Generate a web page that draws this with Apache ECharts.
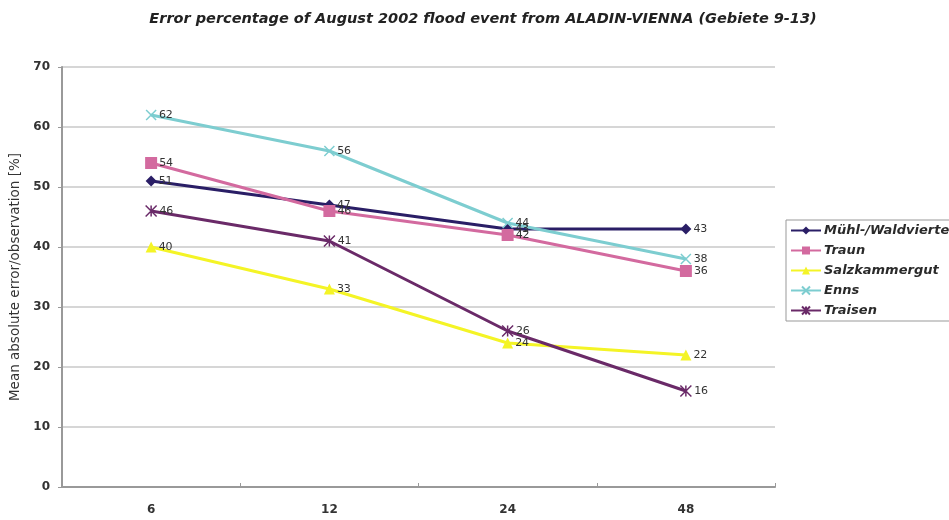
<!DOCTYPE html>
<html>
<head>
<meta charset="utf-8">
<script src="https://cdn.jsdelivr.net/npm/echarts@6/dist/echarts.min.js"></script>
<style>
  html, body { margin: 0; padding: 0; background: #fff; }
  #chart { width: 949px; height: 520px; }
</style>
</head>
<body>
<div id="chart"></div>
<script>
var hours = ['6', '12', '24', '48']
var muehl = [51, 47, 43, 43]
var traun = [54, 46, 42, 36]
var salzkammergut = [40, 33, 24, 22]
var enns = [62, 56, 44, 38]
var traisen = [46, 41, 26, 16]

var crossPath = 'path://M0,0L10,10M10,0L0,10'
var starPath = 'path://M0,0L10,10M10,0L0,10M5,0L5,10'
var font = 'DejaVu Sans'

var myChart = echarts.init(document.getElementById('chart'))

function line (name, data, color, symbol, size) {
  return {
    name: name,
    type: 'line',
    data: data,
    symbol: symbol,
    symbolSize: size,
    itemStyle: { color: color, borderColor: color, borderWidth: symbol.indexOf('path') === 0 ? 1.5 : 0 },
    lineStyle: { color: color, width: 3 },
    label: {
      show: true,
      position: 'right',
      distance: 2,
      color: '#333',
      fontSize: 11,
      fontFamily: font
    },
    z: 3
  }
}

var option = {
  backgroundColor: '#fff',
  animation: false,
  title: {
    text: 'Error percentage of August 2002 flood event from ALADIN-VIENNA (Gebiete 9-13)',
    left: 478,
    textAlign: 'center',
    top: 7,
    textStyle: {
      fontFamily: font,
      fontSize: 14.5,
      fontWeight: 'bold',
      fontStyle: 'italic',
      color: '#222'
    }
  },
  legend: {
    orient: 'vertical',
    left: 786,
    top: 220,
    itemWidth: 30,
    itemHeight: 10,
    itemGap: 7,
    padding: [4, 10, 4, 4],
    borderColor: '#999',
    borderWidth: 1,
    textStyle: {
      fontFamily: font,
      fontSize: 13,
      fontWeight: 'bold',
      fontStyle: 'italic',
      color: '#2a2a2a',
      padding: [0, 0, 0, -2]
    },
    data: ['Mühl-/Waldviertel', 'Traun', 'Salzkammergut', 'Enns', 'Traisen']
  },
  grid: {
    left: 62,
    right: 174,
    top: 67,
    bottom: 33,
    outerBoundsMode: 'none',
    containLabel: false
  },
  xAxis: {
    type: 'category',
    data: hours,
    boundaryGap: true,
    name: 'Forecast time [h]',
    nameLocation: 'middle',
    nameGap: 30,
    nameTextStyle: { fontFamily: font, fontSize: 12, color: '#777' },
    axisLine: { lineStyle: { color: '#999', width: 2 } },
    axisTick: { show: true, length: 4, inside: true, lineStyle: { color: '#999' } },
    axisLabel: {
      margin: 17,
      fontFamily: font,
      fontSize: 12,
      fontWeight: 'bold',
      color: '#333'
    }
  },
  yAxis: {
    type: 'value',
    min: 0,
    max: 70,
    interval: 10,
    name: 'Mean absolute error/observation [%]',
    nameLocation: 'middle',
    nameGap: 38,
    nameTextStyle: { fontFamily: font, fontSize: 13.5, color: '#333' },
    axisLine: { show: true, lineStyle: { color: '#999', width: 2 } },
    axisTick: { show: true, length: 4, lineStyle: { color: '#999' } },
    axisLabel: {
      margin: 12,
      fontFamily: font,
      fontSize: 12,
      fontWeight: 'bold',
      color: '#333'
    },
    splitLine: { show: true, lineStyle: { color: '#c8c8c8', width: 1.5 } }
  },
  series: [
    line('Mühl-/Waldviertel', muehl, '#2a1e66', 'diamond', 11),
    line('Traun', traun, '#d36a9f', 'rect', 12),
    line('Salzkammergut', salzkammergut, '#f4f426', 'triangle', 11),
    line('Enns', enns, '#7dcdd0', crossPath, 10),
    line('Traisen', traisen, '#6a2a68', starPath, 11)
  ]
}
myChart.setOption(option)
</script>
</body>
</html>
